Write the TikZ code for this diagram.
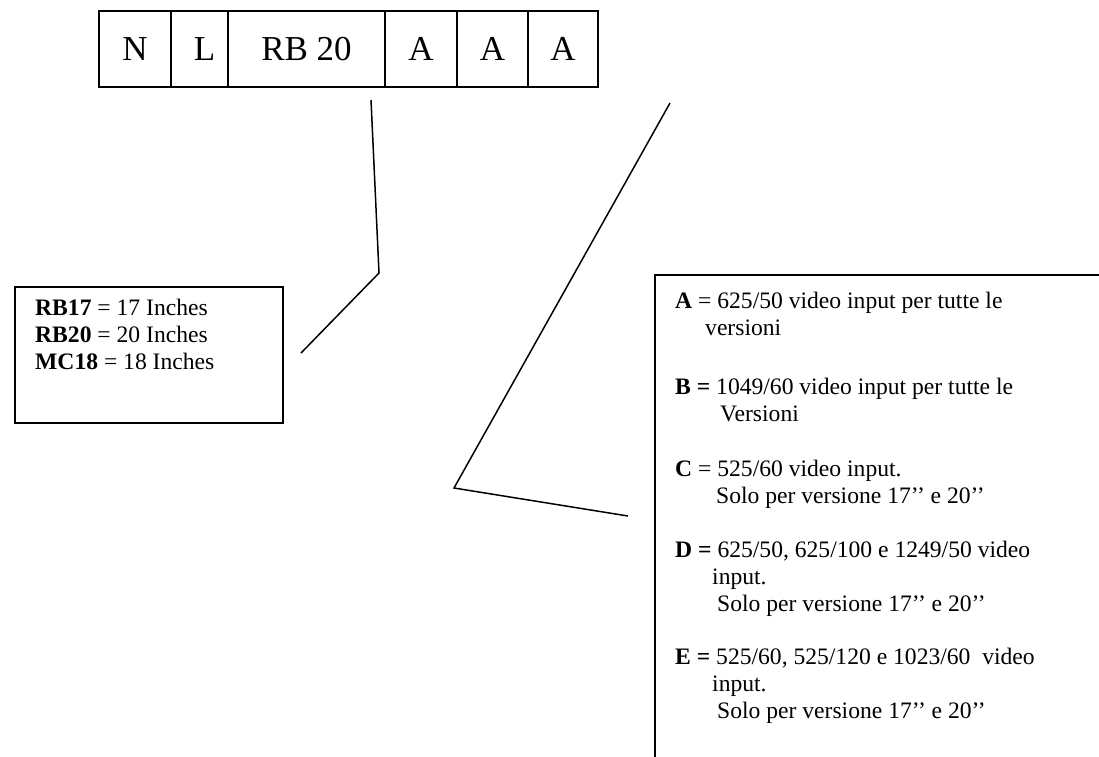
\documentclass[tikz,border=0pt]{standalone}
\usepackage{fontspec}
\setmainfont{Liberation Serif}
\begin{document}
\begin{tikzpicture}[x=1pt,y=-1pt,
  cell/.style={draw, line width=1.5pt, minimum height=76pt, inner sep=0pt, font=\fontsize{35}{40}\selectfont},
  frame/.style={draw, line width=1.5pt, inner sep=0pt, anchor=north west},
  conn/.style={line width=1.5pt},
  txt/.style={anchor=base west, inner sep=0pt, font=\fontsize{23.6}{27}\selectfont}]
\useasboundingbox (0,0) rectangle (1099,756);
\clip (0,0) rectangle (1099,756);
% code cells
\node[cell, minimum width=72pt] (cN) at (135,49) {N};
\node[cell, minimum width=57pt] (cL) at (199.5,49) {\hspace*{10pt}L};
\node[cell, minimum width=157pt] (cRB) at (306.5,49) {RB 20};
\node[cell, minimum width=72pt] (cA1) at (421,49) {A};
\node[cell, minimum width=71pt] (cA2) at (492.5,49) {A};
\node[cell, minimum width=70pt] (cA3) at (563,49) {A};
% left legend box
\node[frame, minimum width=268pt, minimum height=136pt] (leftbox) at (14,286) {};
\node[txt] (l1) at (35,315) {\textbf{RB17} = 17 Inches};
\node[txt] (l2) at (35,342) {\textbf{RB20} = 20 Inches};
\node[txt] (l3) at (35,369) {\textbf{MC18} = 18 Inches};
% right legend box (cut by the page edge)
\node[frame, minimum width=600pt, minimum height=600pt] (rightbox) at (654,274) {};
\node[txt] (ra1) at (675,308) {\textbf{A} = 625/50 video input per tutte le};
\node[txt] (ra2) at (705,335) {versioni};
\node[txt] (rb1) at (675,394) {\textbf{B =} 1049/60 video input per tutte le};
\node[txt] (rb2) at (720,421) {Versioni};
\node[txt] (rc1) at (675,476) {\textbf{C} = 525/60 video input.};
\node[txt] (rc2) at (716,503) {Solo per versione 17’’ e 20’’};
\node[txt] (rd1) at (675,557) {\textbf{D =} 625/50, 625/100 e 1249/50 video};
\node[txt] (rd2) at (712,584) {input.};
\node[txt] (rd3) at (717,611) {Solo per versione 17’’ e 20’’};
\node[txt] (re1) at (675,664) {\textbf{E =} 525/60, 525/120 e 1023/60\ \ video};
\node[txt] (re2) at (712,691) {input.};
\node[txt] (re3) at (717,718) {Solo per versione 17’’ e 20’’};
% connectors
\coordinate (p1) at (371,100);
\coordinate (p2) at (379,273);
\coordinate (p3) at (301,353);
\draw[conn] (p1) -- (p2) -- (p3);
\coordinate (q1) at (670,103);
\coordinate (q2) at (454,488);
\coordinate (q3) at (628,516);
\draw[conn] (q1) -- (q2) -- (q3);
\end{tikzpicture}
\end{document}
